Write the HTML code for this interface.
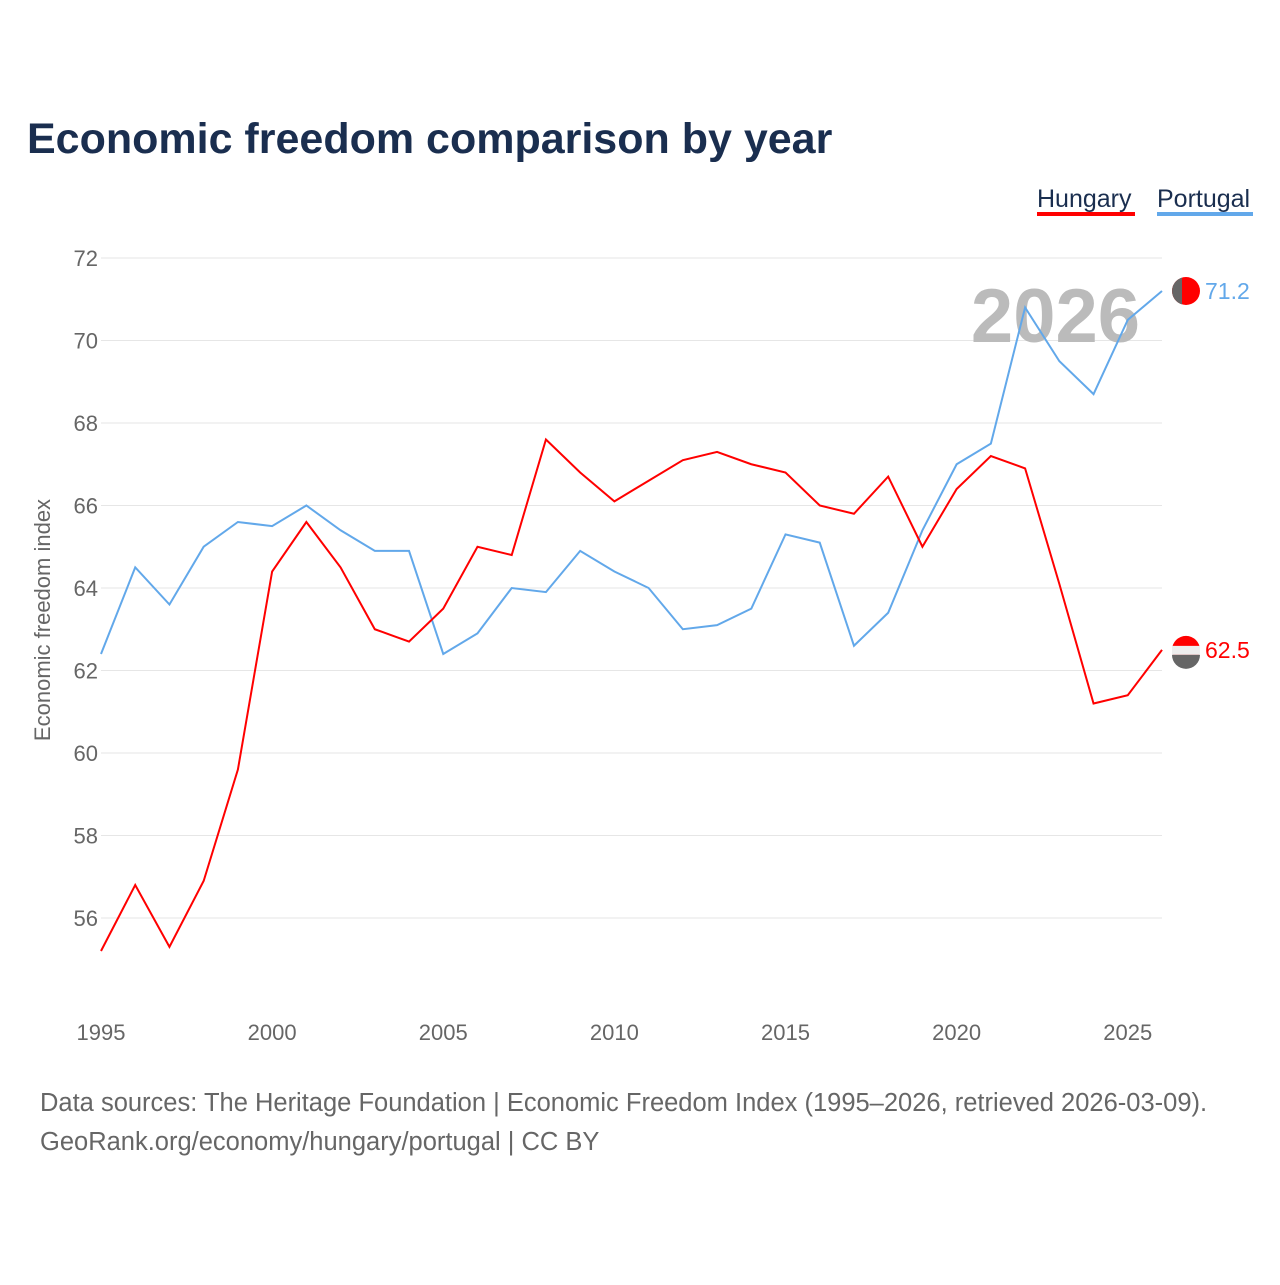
<!DOCTYPE html>
<html><head><meta charset="utf-8"><style>
body{margin:0;background:#fff;font-family:"Liberation Sans",sans-serif}
svg text{font-family:"Liberation Sans",sans-serif}
</style></head><body>
<svg id="chart" width="1280" height="1280" xmlns="http://www.w3.org/2000/svg">
<rect width="1280" height="1280" fill="#fff"/>
<text x="27" y="153" font-size="43" font-weight="bold" fill="#1a2e4f">Economic freedom comparison by year</text>
<g><text x="1037" y="207" font-size="25" fill="#1a2e4f">Hungary</text><rect x="1037" y="212" width="98" height="4" fill="#ff0000"/></g>
<g><text x="1157" y="207" font-size="25" fill="#1a2e4f">Portugal</text><rect x="1157" y="212" width="96" height="4" fill="#62a8ea"/></g>
<g id="grid"></g>
<g id="yticks"></g>
<g id="xticks"></g>
<text transform="translate(50,620) rotate(-90)" text-anchor="middle" font-size="22" fill="#666">Economic freedom index</text>
<text x="1140" y="342" text-anchor="end" font-size="76" font-weight="bold" fill="#bbb">2026</text>
<g id="series"></g>
<text x="40" y="1111" font-size="25.5" fill="#666">Data sources: The Heritage Foundation | Economic Freedom Index (1995–2026, retrieved 2026-03-09).</text>
<text x="40" y="1150" font-size="25.5" fill="#666">GeoRank.org/economy/hungary/portugal | CC BY</text>
</svg>
<script>
const years=[];for(let y=1995;y<=2026;y++)years.push(y);
const hungary=[55.2,56.8,55.3,56.9,59.6,64.4,65.6,64.5,63.0,62.7,63.5,65.0,64.8,67.6,66.8,66.1,66.6,67.1,67.3,67.0,66.8,66.0,65.8,66.7,65.0,66.4,67.2,66.9,64.1,61.2,61.4,62.5];
const portugal=[62.4,64.5,63.6,65.0,65.6,65.5,66.0,65.4,64.9,64.9,62.4,62.9,64.0,63.9,64.9,64.4,64.0,63.0,63.1,63.5,65.3,65.1,62.6,63.4,65.4,67.0,67.5,70.8,69.5,68.7,70.5,71.2];
const yTicks=[56,58,60,62,64,66,68,70,72];
const xTicks=[1995,2000,2005,2010,2015,2020,2025];
const NS="http://www.w3.org/2000/svg";
const X=v=>101+(v-1995)*(1162-101)/31;
const Y=v=>258+(72-v)*41.25;
function mk(t,a,p){const e=document.createElementNS(NS,t);for(const k in a)e.setAttribute(k,a[k]);p.appendChild(e);return e;}
const grid=document.getElementById('grid'),yt=document.getElementById('yticks'),xt=document.getElementById('xticks'),ser=document.getElementById('series');
yTicks.forEach(v=>{
 const l=mk('line',{x1:101,x2:1162,y1:Y(v),y2:Y(v),stroke:'#e6e6e6','stroke-width':1},grid);
 
 
 const t=mk('text',{x:98,y:Y(v)+8,'text-anchor':'end','font-size':22,fill:'#666'},yt);t.textContent=v;
 
 
});
xTicks.forEach(v=>{
 const t=mk('text',{x:X(v),y:1040,'text-anchor':'middle','font-size':22,fill:'#666'},xt);t.textContent=v;
 
 
});
function line(vals,col,name){
 const p=mk('polyline',{points:vals.map((v,i)=>X(years[i])+','+Y(v)).join(' '),fill:'none',stroke:col,'stroke-width':2},ser);
 
 
 const last=vals[vals.length-1],cx=1186,cy=Y(last);
 const c=mk('circle',{cx:cx,cy:cy,r:14,fill:'#ff0000'},ser);
 
 
 if(name==='hungary'){mk('rect',{x:cx-14,y:cy-4,width:28,height:9,fill:'#eee'},ser);mk('path',{d:`M${cx-14},${cy+5} A14,14 0 0 0 ${cx+14},${cy+5} Z`,fill:'#666'},ser);}
 else{mk('path',{d:`M${cx-4},${cy-13.4} A14,14 0 0 0 ${cx-4},${cy+13.4} Z`,fill:'#666'},ser);}
 const t=mk('text',{x:1205,y:cy+8,'font-size':23,fill:col},ser);t.textContent=last.toFixed(1);
 
 
}
line(portugal,'#62a8ea','portugal');
line(hungary,'#ff0000','hungary');
</script>
</body></html>
